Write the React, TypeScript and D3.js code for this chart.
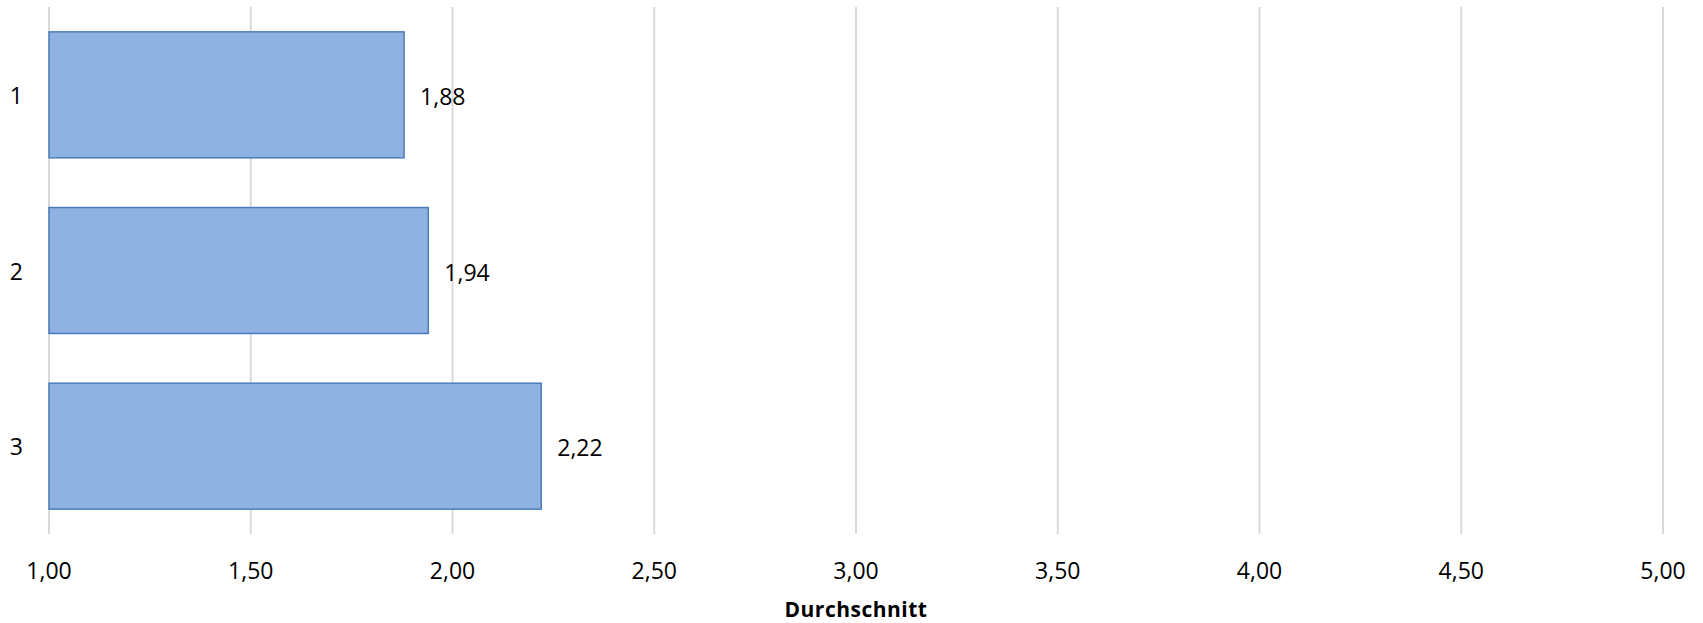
import React from "react";
import * as d3 from "d3";

// Average score per group
const categories: string[] = ["1", "2", "3"];
const averages: number[] = [1.88, 1.94, 2.22];
const xTicks: number[] = [1, 1.5, 2, 2.5, 3, 3.5, 4, 4.5, 5];
const axisTitle = "Durchschnitt";

const W = 1703;
const H = 623;
const margin = { left: 49, right: 40, top: 7, bottom: 89 };

const fmt = (v: number) => d3.format(".2f")(v).replace(".", ",");

export default function App() {
  const x = d3
    .scaleLinear()
    .domain([1, 5])
    .range([margin.left, W - margin.right]);
  const y = d3
    .scaleBand<string>()
    .domain(categories)
    .range([margin.top, H - margin.bottom])
    .paddingInner(0.283)
    .paddingOuter(0.1415);

  const font = "'Open Sans', 'Liberation Sans', sans-serif";
  const plotBottom = H - margin.bottom;

  return (
    <svg
      width={W}
      height={H}
      style={{ position: "absolute", left: 0, top: 0, background: "#fff" }}
      fontFamily={font}
    >
      {/* vertical gridlines */}
      {xTicks.map((t) => (
        <line
          key={`g${t}`}
          x1={x(t)}
          x2={x(t)}
          y1={margin.top}
          y2={plotBottom}
          stroke="#d9d9d9"
          strokeWidth={2}
        />
      ))}

      {/* bars */}
      {categories.map((c, i) => (
        <rect
          key={`b${c}`}
          x={x(1)}
          y={y(c)!}
          width={x(averages[i]) - x(1)}
          height={y.bandwidth()}
          fill="#8fb2e2"
          stroke="#4a7ebb"
          strokeWidth={1.5}
        />
      ))}

      {/* value labels */}
      {categories.map((c, i) => (
        <text
          key={`v${c}`}
          x={x(averages[i]) + 16}
          y={y(c)! + y.bandwidth() / 2 + 1}
          dominantBaseline="central"
          fontSize={23}
          fill="#000"
        >
          {fmt(averages[i])}
        </text>
      ))}

      {/* category labels */}
      {categories.map((c) => (
        <text
          key={`c${c}`}
          x={23}
          y={y(c)! + y.bandwidth() / 2}
          dominantBaseline="central"
          textAnchor="end"
          fontSize={23}
          fill="#000"
        >
          {c}
        </text>
      ))}

      {/* x tick labels */}
      {xTicks.map((t) => (
        <text
          key={`t${t}`}
          x={x(t)}
          y={570}
          dominantBaseline="central"
          textAnchor="middle"
          fontSize={23}
          fill="#000"
        >
          {fmt(t)}
        </text>
      ))}

      {/* axis title */}
      <text
        x={(x(1) + x(5)) / 2}
        y={617}
        textAnchor="middle"
        fontSize={21}
        letterSpacing={0.5}
        fontWeight="bold"
        fill="#000"
      >
        {axisTitle}
      </text>
    </svg>
  );
}
